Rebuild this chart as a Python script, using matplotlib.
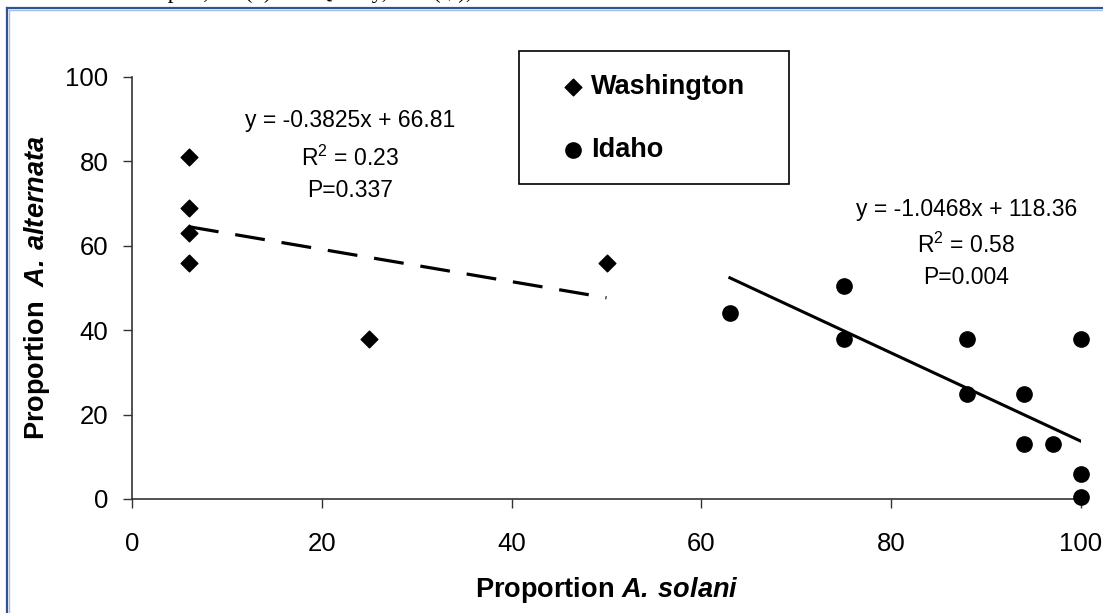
import numpy as np
import matplotlib
matplotlib.use("Agg")
import matplotlib.pyplot as plt
from matplotlib.lines import Line2D
from matplotlib.patches import Rectangle

# Washington isolates (diamonds)
wa_x = [6, 6, 6, 6, 25, 50]
wa_y = [81, 69, 63, 56, 38, 56]

# Idaho isolates (circles)
id_x = [63, 75, 75, 88, 88, 94, 94, 97, 100, 100, 100]
id_y = [44, 50.5, 38, 38, 25, 25, 13, 13, 38, 6, 0.5]

# trendlines as printed on the chart (slope, intercept)
wa_fit = (-0.3825, 66.81)
id_fit = (-1.0468, 118.36)
wa_stats = ["y = -0.3825x + 66.81", "R$^2$ = 0.23", "P=0.337"]
id_stats = ["y = -1.0468x + 118.36", "R$^2$ = 0.58", "P=0.004"]

x_ticks = [0, 20, 40, 60, 80, 100]
y_ticks = [0, 20, 40, 60, 80, 100]

plt.rcParams['font.family'] = ['Liberation Sans', 'DejaVu Sans']
plt.rcParams['mathtext.fontset'] = 'custom'
plt.rcParams['mathtext.rm'] = 'Liberation Sans'
plt.rcParams['mathtext.it'] = 'Liberation Sans:italic'
plt.rcParams['mathtext.bf'] = 'Liberation Sans:bold'
plt.rcParams['mathtext.bfit'] = 'Liberation Sans:italic:bold'
plt.rcParams['mathtext.default'] = 'regular'
plt.rcParams['lines.scale_dashes'] = False

W, H = 1103, 613
fig = plt.figure(figsize=(W / 100, H / 100), dpi=100)

# plot area in pixels: x 132..1081, y 77..499
ax = fig.add_axes([132 / W, (H - 499) / H, (1081 - 132) / W, (499 - 77) / H])
ax.set_xlim(0, 100)
ax.set_ylim(0, 100)

ax.scatter(wa_x, wa_y, marker='D', s=8.5 ** 2, color='black', label='Washington',
           zorder=3, clip_on=False)
ax.scatter(id_x, id_y, marker='o', s=11 ** 2, color='black', label='Idaho',
           zorder=3, clip_on=False)

# trendlines
xs = np.array([min(wa_x), max(wa_x)])
ax.plot(xs, wa_fit[0] * xs + wa_fit[1], color='black', lw=2.3,
        dashes=(21.6, 12.2), zorder=4)
xs = np.array([min(id_x), max(id_x)])
ax.plot(xs, id_fit[0] * xs + id_fit[1], color='black', lw=2.2, zorder=4)

# equations
for txt, y in zip(wa_stats, [89.8, 80.8, 73.2]):
    ax.text(23, y, txt, fontsize=16.5, ha='center', va='center')
for txt, y in zip(id_stats, [68.7, 60.2, 52.4]):
    ax.text(87.9, y, txt, fontsize=16.5, ha='center', va='center')

# axes styling (Excel look: left and bottom only)
for side in ['top', 'right']:
    ax.spines[side].set_visible(False)
for side in ['left', 'bottom']:
    ax.spines[side].set_color('#333333')
    ax.spines[side].set_linewidth(1.2)
ax.set_xticks(x_ticks)
ax.set_yticks(y_ticks)
ax.tick_params(axis='both', direction='out', length=6.5, width=1,
               color='#333333', labelsize=18.5)
ax.tick_params(axis='x', pad=17)
ax.tick_params(axis='y', pad=10.5)

ax.set_xlabel(r"Proportion $\mathbfit{A.\:solani}$", fontsize=19.5,
              fontweight='bold', va='center')
ax.set_ylabel(r"Proportion  $\mathbfit{A.\:alternata}$", fontsize=19.5,
              fontweight='bold', va='center')
ax.xaxis.set_label_coords(0.5, (499 - 590) / 422)
ax.yaxis.set_label_coords((37 - 132) / 949, 0.5)

# legend with a separate square box
leg = ax.legend(loc='center left', frameon=False,
                prop={'weight': 'bold', 'size': 19.5},
                bbox_to_anchor=(559.5 / W, 1 - 118.5 / H),
                bbox_transform=fig.transFigure,
                handlelength=1.0, handletextpad=0.17, labelspacing=1.35,
                borderpad=0, borderaxespad=0, scatterpoints=1)
fig.add_artist(Rectangle((519 / W, 1 - 184 / H), 270 / W, 133 / H,
                         transform=fig.transFigure, fill=False,
                         edgecolor='black', lw=1.2))

# chart-area border (blue, cut off by the crop)
fig.add_artist(Line2D([7 / W, 1], [1 - 8 / H, 1 - 8 / H], color='#2e5496',
                      lw=1.6, transform=fig.transFigure))
fig.add_artist(Line2D([7 / W, 7 / W], [0, 1 - 8 / H], color='#2e5496',
                      lw=1.6, transform=fig.transFigure))
fig.add_artist(Line2D([8.5 / W, 1], [1 - 9.6 / H, 1 - 9.6 / H], color='#a9bddf',
                      lw=1, transform=fig.transFigure))
fig.add_artist(Line2D([8.6 / W, 8.6 / W], [0, 1 - 9.6 / H], color='#a9bddf',
                      lw=1, transform=fig.transFigure))

# caption line above the chart, mostly cropped away
cap_font = ['Liberation Serif', 'DejaVu Sans']
fig.text(134 / W, 1 + 2 / H, "isolated from lesions at", ha='right',
         va='baseline', fontsize=16.5, family=cap_font)
fig.text(141 / W, 1 + 2 / H, "Rupert, ID (o) and Quincy, WA (\u25c6), 2003.",
         ha='left', va='baseline', fontsize=16.5, family=cap_font)

fig.savefig("out.png", dpi=100)
